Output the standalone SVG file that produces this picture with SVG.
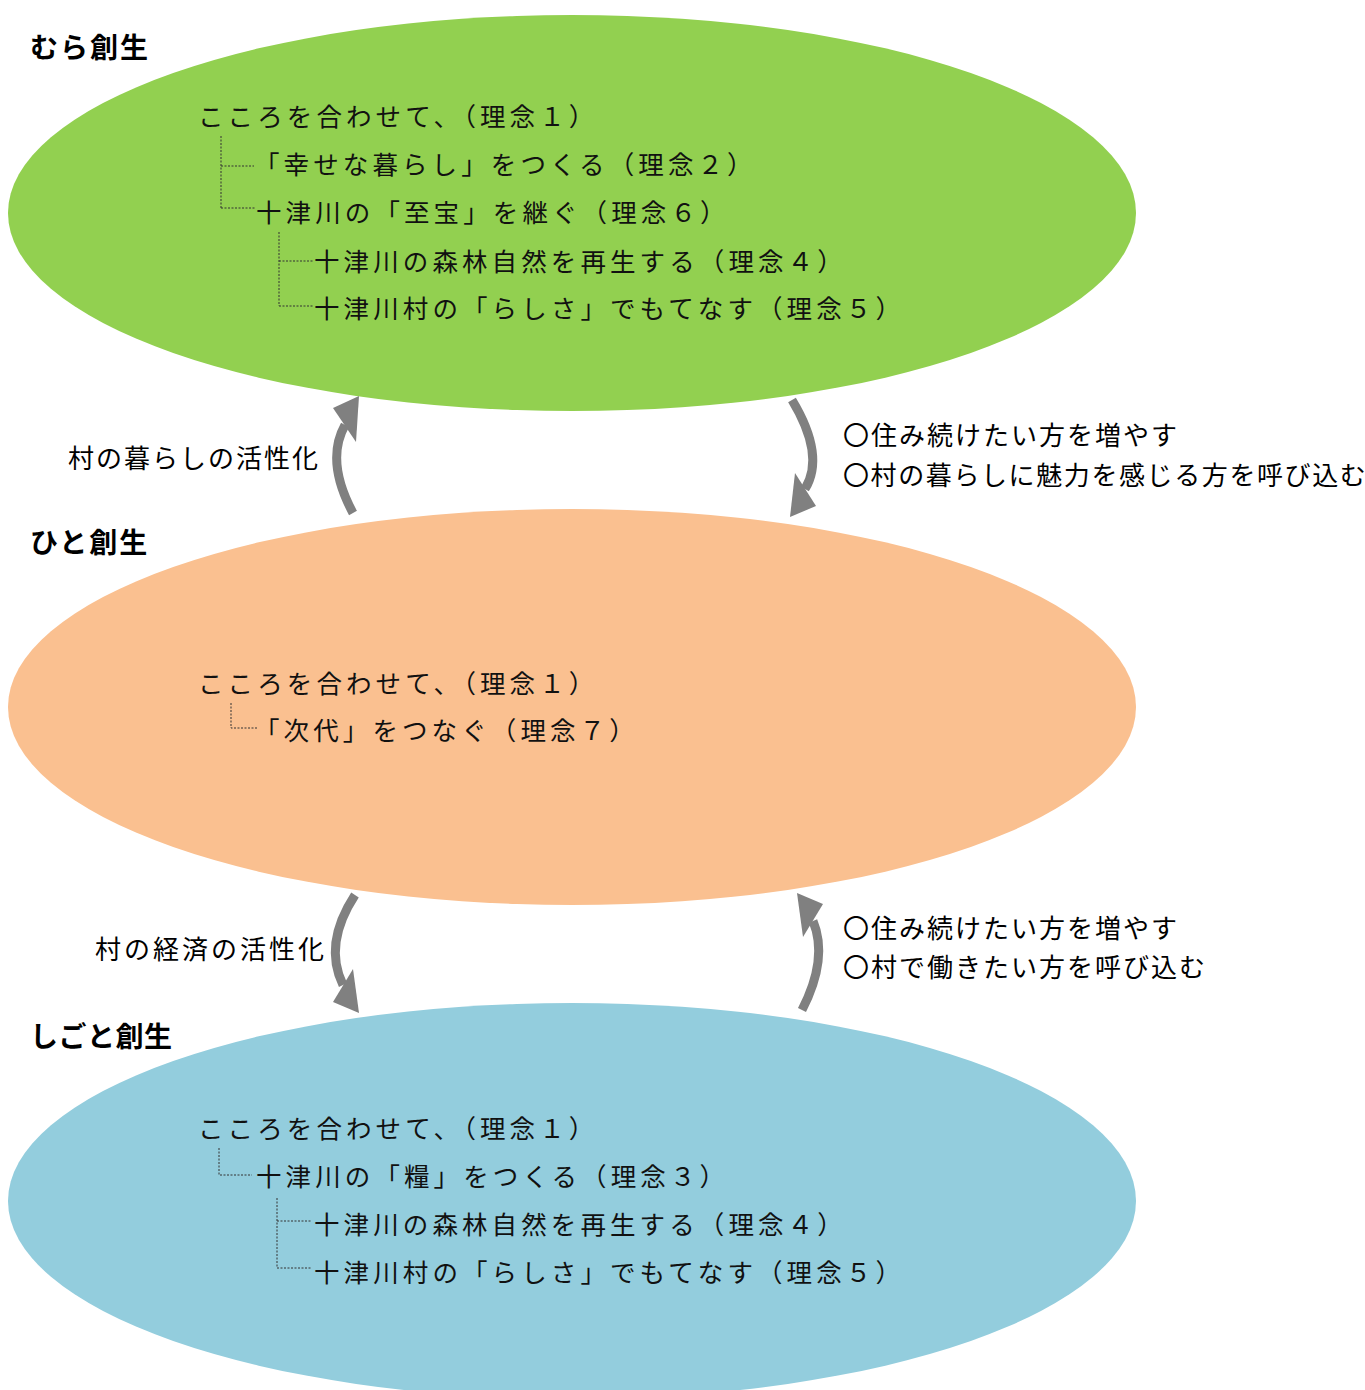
<svg xmlns="http://www.w3.org/2000/svg" width="1365" height="1390" viewBox="0 0 1365 1390">
<style>
.t{font-family:"Noto Sans CJK JP","Noto Sans CJK SC",sans-serif;font-size:25.5px;letter-spacing:4.1px;fill:#111}
.lbl{font-family:"Noto Sans CJK JP","Noto Sans CJK SC",sans-serif;font-size:26px;letter-spacing:2px;fill:#000}
.ttl{font-family:"Noto Sans CJK JP","Noto Sans CJK SC",sans-serif;font-size:28px;font-weight:bold;letter-spacing:2px;fill:#000}
.tree{stroke:#333;stroke-width:1;stroke-dasharray:2 1.5;fill:none}
.shaft{stroke:#808080;stroke-width:9;fill:none}
.head{fill:#808080}
</style>
<rect width="1365" height="1390" fill="#fff"/>
<g id="mura">
<ellipse cx="572" cy="213" rx="564" ry="198" fill="#92D050"/>
<text class="ttl" x="30" y="58">むら創生</text>
<text class="t" x="198" y="126">こころを合わせて、（理念１）</text>
<text class="t" x="254" y="174">「幸せな暮らし」をつくる（理念２）</text>
<text class="t" x="256" y="222">十津川の「至宝」を継ぐ（理念６）</text>
<text class="t" x="314" y="271">十津川の森林自然を再生する（理念４）</text>
<text class="t" x="314" y="318">十津川村の「らしさ」でもてなす（理念５）</text>
<path class="tree" d="M221 136V208M221 166H254M221 208H256M279 232V306M279 261H313M279 306H313"/>
</g>
<g id="hito">
<ellipse cx="572" cy="707" rx="564" ry="198" fill="#FAC090"/>
<text class="ttl" x="30" y="553">ひと創生</text>
<text class="t" x="198" y="693">こころを合わせて、（理念１）</text>
<text class="t" x="254" y="740">「次代」をつなぐ（理念７）</text>
<path class="tree" d="M231 703V728H258"/>
</g>
<g id="shigoto">
<ellipse cx="572" cy="1201" rx="564" ry="198" fill="#93CDDD"/>
<text class="ttl" x="30" y="1047" style="letter-spacing:0.5px">しごと創生</text>
<text class="t" x="198" y="1138">こころを合わせて、（理念１）</text>
<text class="t" x="256" y="1186">十津川の「糧」をつくる（理念３）</text>
<text class="t" x="314" y="1234">十津川の森林自然を再生する（理念４）</text>
<text class="t" x="314" y="1282">十津川村の「らしさ」でもてなす（理念５）</text>
<path class="tree" d="M219 1148V1175H252M277 1198V1268M277 1221H312M277 1268H312"/>
</g>
<g id="connectors">
<path class="shaft" d="M353 513Q325 461 345 425"/>
<polygon class="head" points="359,396 333,408 356,442"/>
<path class="shaft" d="M792 400Q825.5 455.5 805 489"/>
<polygon class="head" points="790,517 795,473 816,506"/>
<path class="shaft" d="M355 895Q323 944 343 985"/>
<polygon class="head" points="359,1013 333,1002 353,969"/>
<path class="shaft" d="M802 1010Q828.5 958.5 813 921"/>
<polygon class="head" points="797,893 823,904 803,937"/>
</g>
<g id="labels">
<text class="lbl" x="68" y="468">村の暮らしの活性化</text>
<text class="lbl" x="95" y="959" style="letter-spacing:3px">村の経済の活性化</text>
<text class="lbl" x="843" y="445">〇住み続けたい方を増やす</text>
<text class="lbl" x="843" y="485" style="letter-spacing:1.6px">〇村の暮らしに魅力を感じる方を呼び込む</text>
<text class="lbl" x="843" y="938">〇住み続けたい方を増やす</text>
<text class="lbl" x="843" y="977">〇村で働きたい方を呼び込む</text>
</g>
</svg>
